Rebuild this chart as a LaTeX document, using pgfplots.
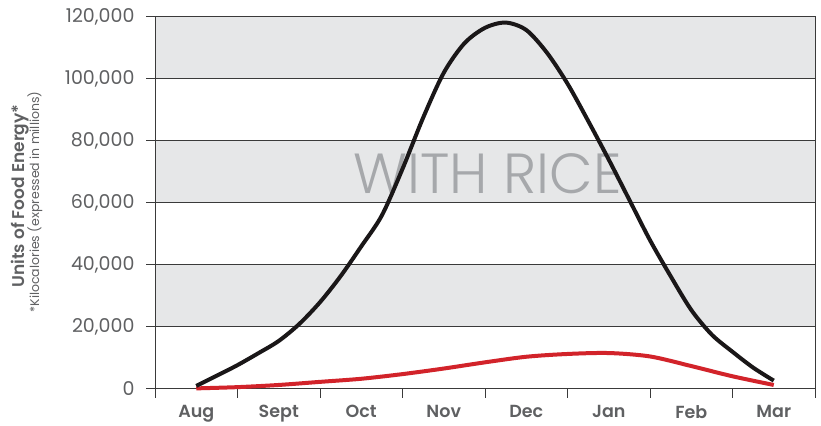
\documentclass[border=0pt]{standalone}
\usepackage{fontspec}
\setmainfont{Poppins}
\newfontfamily\lightfont{Poppins Light}
\newfontfamily\semifont{Poppins SemiBold}
\usepackage{pgfplots}
\pgfplotsset{compat=1.18}
\definecolor{band}{HTML}{E6E7E8}
\definecolor{gridc}{HTML}{3A3A3A}
\definecolor{labc}{HTML}{5F6062}
\definecolor{ricec}{HTML}{A6A8AB}
\definecolor{blk}{HTML}{1A1718}
\definecolor{redc}{HTML}{D2232A}
\begin{document}
\begin{tikzpicture}
\path (-155pt,-33pt) rectangle (666pt,389pt);
\begin{axis}[
  set layers,
  scale only axis, width=660pt, height=372pt,
  xmin=-0.5, xmax=7.5, ymin=0, ymax=120000,
  xtick={-0.5,0.5,1.5,2.5,3.5,4.5,5.5,6.5,7.5},
  xticklabels={{},{},{},{},{},{},{},{},{}},
  extra x ticks={0,1,2,3,4,5,6,7},
  extra x tick labels={Aug,Sept,Oct,Nov,Dec,Jan,Feb,Mar},
  extra x tick style={major tick length=0pt,
    tick label style={font=\semifont\fontsize{17.5}{17.5}\selectfont, text=labc, yshift=-13pt}},
  ytick={0,20000,40000,60000,80000,100000,120000},
  yticklabels={0,{20,000},{40,000},{60,000},{80,000},{100,000},{120,000}},
  ymajorgrids, grid style={gridc, line width=1pt},
  axis line style={gridc, line width=1pt},
  tick style={gridc, line width=1pt},
  major tick length=9pt,
  tick align=outside, xtick pos=bottom, ytick pos=left,
  scaled y ticks=false, scaled x ticks=false,
  yticklabel style={font=\fontsize{19}{19}\selectfont, text=labc, xshift=-8pt},
  clip=false,
]
\begin{pgfonlayer}{axis background}
\fill[band] (axis cs:-0.5,20000) rectangle (axis cs:7.5,40000);
\fill[band] (axis cs:-0.5,60000) rectangle (axis cs:7.5,80000);
\fill[band] (axis cs:-0.5,100000) rectangle (axis cs:7.5,120000);
\end{pgfonlayer}
\node[font=\lightfont\fontsize{56.5}{56.5}\selectfont, text=ricec] at (axis cs:3.53,69300) {WITH RICE};
\addplot[redc, line width=4pt, smooth, tension=0.5] coordinates {
(0,200) (0.5,600) (1,1300) (1.5,2300) (2,3300) (2.5,4800) (3,6600) (3.5,8600)
(4,10400) (4.5,11300) (5,11600) (5.5,10500) (6,7400) (6.5,4100) (7,1300)};
\addplot[blk, line width=4pt, smooth, tension=0.5] coordinates {
(0,1000) (0.25,4300) (0.5,7700) (0.75,11500) (1,15500) (1.25,21000) (1.5,28000)
(1.75,36400) (2,46000) (2.25,56000) (2.5,71000) (2.75,87500) (3,102000)
(3.25,111500) (3.5,116500) (3.75,118200) (4,115800) (4.25,108500) (4.5,98500)
(4.75,86500) (5,74000) (5.25,61000) (5.5,48000) (5.75,36400) (6,25500)
(6.25,17500) (6.5,12000) (6.75,6900) (7,2700)};
\end{axis}
\node[rotate=90, font=\semifont\fontsize{17}{17}\selectfont, text=labc] at (-135pt,193pt) {Units of Food Energy*};
\node[rotate=90, font=\fontsize{12.5}{12.5}\selectfont, text=labc] at (-120pt,187pt) {*Kilocalories (expressed in millions)};
\end{tikzpicture}
\end{document}
